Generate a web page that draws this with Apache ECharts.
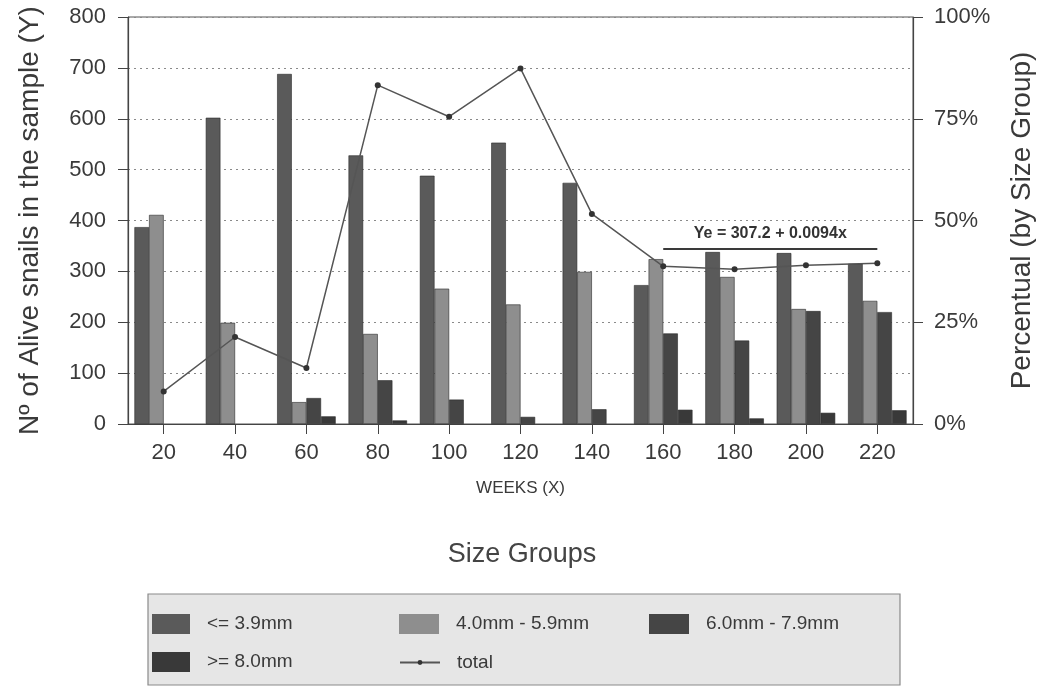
<!DOCTYPE html>
<html>
<head>
<meta charset="utf-8">
<script src="https://cdn.jsdelivr.net/npm/echarts@6/dist/echarts.min.js"></script>
<style>
html,body{margin:0;padding:0;background:#fff;}
#chart{width:1044px;height:689px;}
</style>
</head>
<body>
<div id="chart"></div>
<script>
// ---- data ----
const weeks = ['20','40','60','80','100','120','140','160','180','200','220'];
const sizeLe39   = [387, 602, 688, 528, 488, 553, 474, 273, 338, 336, 315];
const size40to59 = [411, 199, 43, 177, 266, 235, 299, 324, 289, 226, 242];
const size60to79 = [0, 0, 51, 86, 48, 14, 29, 178, 164, 222, 220];
const sizeGe80   = [0, 0, 15, 7, 0, 0, 0, 28, 11, 22, 27];
const totalLine  = [64, 171, 110, 666, 604, 699, 413, 310, 304, 312, 316];
const leftTicks  = [0, 100, 200, 300, 400, 500, 600, 700, 800];
const rightTicks = ['0%', '25%', '50%', '75%', '100%'];
const regressionLabel = 'Ye = 307.2 + 0.0094x';
const regressionLevel = 345;
const regressionFrom = '160';
const regressionTo = '220';
const seriesNames = ['<= 3.9mm', '4.0mm - 5.9mm', '6.0mm - 7.9mm', '>= 8.0mm', 'total'];

const FONT = "'Liberation Sans', Arial, Helvetica, sans-serif";
const TXT = '#3a3a3a';

const chart = echarts.init(document.getElementById('chart'), null, {renderer: 'canvas'});

function barSeries(name, data, color) {
  return {
    name: name,
    type: 'bar',
    // empty (zero) bars are not drawn in the reference
    data: data.map(function (v) { return v === 0 ? null : v; }),
    barGap: '0%',
    barCategoryGap: '18%',
    itemStyle: {color: color, borderColor: '#2a2a2a', borderWidth: 0.6},
    emphasis: {disabled: true}
  };
}

const legendText = {fontFamily: FONT, fontSize: 19, color: TXT, padding: [0, 0, 0, 12]};

const option = {
  animation: false,
  backgroundColor: '#ffffff',
  textStyle: {fontFamily: FONT, color: TXT},
  title: {
    text: 'Size Groups',
    left: 'center',
    top: 536,
    textStyle: {fontFamily: FONT, fontSize: 27, fontWeight: 'normal', color: '#444'}
  },
  grid: {
    left: 128, right: 126, top: 17, bottom: 265,
    show: true, borderColor: '#555', borderWidth: 1, containLabel: false
  },
  graphic: [{
    type: 'rect',
    z: -10,
    shape: {x: 148, y: 594, width: 752, height: 91},
    style: {fill: '#e6e6e6', stroke: '#8a8a8a', lineWidth: 1.2}
  }],
  legend: [
    {
      data: [seriesNames[0], seriesNames[3]],
      orient: 'vertical', left: 152, top: 614, padding: 0,
      itemWidth: 38, itemHeight: 20, itemGap: 18,
      icon: 'rect',
      itemStyle: {borderWidth: 0},
      textStyle: legendText
    },
    {
      data: [seriesNames[1]],
      orient: 'vertical', left: 399, top: 614, padding: 0,
      itemWidth: 40, itemHeight: 20,
      icon: 'rect',
      itemStyle: {borderWidth: 0},
      textStyle: legendText
    },
    {
      data: [seriesNames[4]],
      orient: 'vertical', left: 399, top: 653, padding: 0,
      itemWidth: 40, itemHeight: 6,
      textStyle: legendText
    },
    {
      data: [seriesNames[2]],
      orient: 'vertical', left: 649, top: 614, padding: 0,
      itemWidth: 40, itemHeight: 20,
      icon: 'rect',
      itemStyle: {borderWidth: 0},
      textStyle: legendText
    }
  ],
  xAxis: {
    type: 'category',
    data: weeks,
    name: 'WEEKS (X)',
    nameLocation: 'middle',
    nameGap: 56,
    nameTextStyle: {fontFamily: FONT, fontSize: 17, color: TXT},
    axisLine: {show: true, lineStyle: {color: '#444', width: 1.2}},
    axisTick: {show: true, alignWithLabel: true, length: 10, lineStyle: {color: '#444'}},
    axisLabel: {fontFamily: FONT, fontSize: 22, color: TXT, margin: 18},
    splitLine: {show: false}
  },
  yAxis: [
    {
      type: 'value',
      min: leftTicks[0], max: leftTicks[leftTicks.length - 1], interval: 100,
      position: 'left',
      name: 'Nº of Alive snails in the sample (Y)',
      nameLocation: 'middle',
      nameGap: 84,
      nameRotate: 90,
      nameTextStyle: {fontFamily: FONT, fontSize: 28, color: TXT},
      axisLine: {show: true, lineStyle: {color: '#444', width: 1.2}},
      axisTick: {show: true, length: 10, lineStyle: {color: '#444'}},
      axisLabel: {fontFamily: FONT, fontSize: 22, color: TXT, margin: 22},
      splitLine: {show: true, lineStyle: {color: '#8a8a8a', width: 1, type: [2, 4]}}
    },
    {
      type: 'value',
      min: 0, max: 100, interval: 25,
      position: 'right',
      name: 'Percentual (by Size Group)',
      nameLocation: 'middle',
      nameGap: 95,
      nameRotate: 90,
      nameTextStyle: {fontFamily: FONT, fontSize: 28, color: TXT},
      axisLine: {show: true, lineStyle: {color: '#444', width: 1.2}},
      axisTick: {show: true, length: 10, lineStyle: {color: '#444'}},
      axisLabel: {
        fontFamily: FONT, fontSize: 22, color: TXT, margin: 21,
        formatter: function (v) { return rightTicks[Math.round(v / 25)]; }
      },
      splitLine: {show: false}
    }
  ],
  series: [
    barSeries(seriesNames[0], sizeLe39, '#5a5a5a'),
    barSeries(seriesNames[1], size40to59, '#8e8e8e'),
    barSeries(seriesNames[2], size60to79, '#454545'),
    barSeries(seriesNames[3], sizeGe80, '#393939'),
    {
      name: seriesNames[4],
      type: 'line',
      data: totalLine,
      yAxisIndex: 0,
      symbol: 'circle',
      symbolSize: 6,
      lineStyle: {color: '#555', width: 1.5},
      itemStyle: {color: '#333'},
      emphasis: {disabled: true},
      z: 5,
      markLine: {
        silent: true,
        symbol: ['none', 'none'],
        lineStyle: {color: '#3a3a3a', width: 2, type: 'solid'},
        label: {
          show: true,
          position: 'insideMiddleTop',
          distance: 7,
          formatter: regressionLabel,
          fontFamily: FONT, fontSize: 16, fontWeight: 'bold', color: '#333'
        },
        data: [[{coord: [regressionFrom, regressionLevel]}, {coord: [regressionTo, regressionLevel]}]]
      }
    }
  ]
};

chart.setOption(option);
</script>
</body>
</html>
